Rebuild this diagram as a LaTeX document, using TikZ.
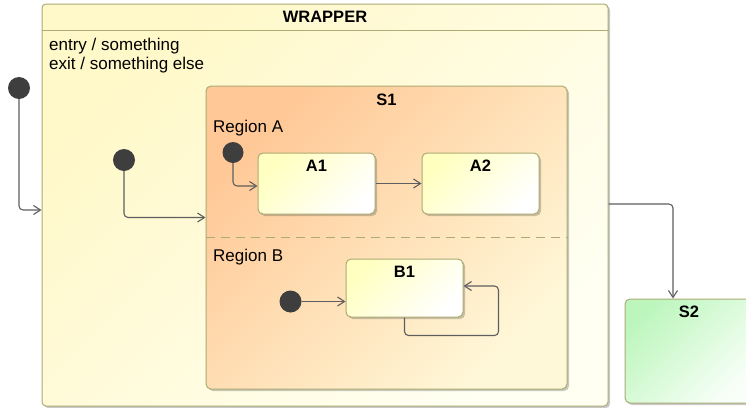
\documentclass[tikz,border=0pt]{standalone}
\usepackage{fontspec}
\setmainfont{Liberation Sans}
\usetikzlibrary{arrows.meta,shadows}

\definecolor{wrapTL}{HTML}{FFF8C8}
\definecolor{wrapBR}{HTML}{FFFFF2}
\definecolor{compTL}{HTML}{FFC896}
\definecolor{compBR}{HTML}{FFF8D8}
\definecolor{leafTL}{HTML}{FFFFC0}
\definecolor{leafBR}{HTML}{FFFFFF}
\definecolor{greenTL}{HTML}{BDF6BD}
\definecolor{greenBR}{HTML}{F8FFF8}
\definecolor{edge}{HTML}{ABAB74}
\definecolor{pseudo}{HTML}{3E3E3E}
\definecolor{wire}{HTML}{5E5E5E}

\tikzset{
  box/.style={draw=edge, line width=1pt, inner sep=0pt,
    drop shadow={shadow xshift=2pt, shadow yshift=-2pt, opacity=0.3, fill=black!70}},
  diag/.style={shading angle=45},
  wrapbox/.style={box, rounded corners=4pt, top color=wrapTL, bottom color=wrapBR, diag},
  compbox/.style={box, rounded corners=5pt, top color=compTL, bottom color=compBR, diag},
  leafbox/.style={box, rounded corners=5pt, top color=leafTL, bottom color=leafBR, diag},
  greenbox/.style={box, rounded corners=5pt, top color=greenTL, bottom color=greenBR, diag},
  initdot/.style={circle, fill=pseudo, draw=none, minimum size=22pt, inner sep=0pt},
  ttl/.style={anchor=base, inner sep=0pt, font=\fontsize{16.5}{19}\selectfont\bfseries},
  lbl/.style={anchor=base west, inner sep=0pt},
  trans/.style={draw=wire, line width=1.1pt, rounded corners=4pt,
    -{Straight Barb[length=7pt,width=9pt]}},
}

\begin{document}
\begin{tikzpicture}[x=1pt, y=-1pt, font=\fontsize{17}{19}\selectfont]
\useasboundingbox (0,0) rectangle (746,407);
\clip (0,0) rectangle (746,407);

% outer composite state
\node[wrapbox, minimum width=566pt, minimum height=402pt] (wrapper) at (325,205) {};
\draw[draw=edge, line width=1pt] ([yshift=-27pt]wrapper.north west) -- ([yshift=-27pt]wrapper.north east);
\node[ttl] (wrapperT) at ([yshift=-19.3pt]wrapper.north) {WRAPPER};
\node[lbl] (entryT) at (49,50) {entry / something};
\node[lbl] (exitT) at (49,69.5) {exit / something else};

% orthogonal state S1
\node[compbox, minimum width=361pt, minimum height=303pt] (S1) at (386.5,237.5) {};
\node[ttl] (S1T) at ([yshift=-19.5pt]S1.north) {S1};
\draw[draw=edge, line width=1pt, dash pattern=on 9pt off 6pt] (S1.west) -- (S1.east);
\node[lbl] (regA) at (213,132.7) {Region A};
\node[lbl] (regB) at (213,261.7) {Region B};

% substates
\node[leafbox, minimum width=117pt, minimum height=61pt] (A1) at (316.5,183.5) {};
\node[ttl] (A1T) at ([yshift=-19.3pt]A1.north) {A1};
\node[leafbox, minimum width=117pt, minimum height=61pt] (A2) at (480.5,183.5) {};
\node[ttl] (A2T) at ([yshift=-19.3pt]A2.north) {A2};
\node[leafbox, minimum width=117pt, minimum height=58pt] (B1) at (404.5,288) {};
\node[ttl] (B1T) at ([yshift=-18.7pt]B1.north) {B1};

% target state
\node[greenbox, minimum width=128pt, minimum height=104pt] (S2) at (689,351) {};
\node[ttl] (S2T) at ([yshift=-19.3pt]S2.north) {S2};

% initial pseudostates
\node[initdot] (init0) at (19,88) {};
\node[initdot] (init1) at (124,160) {};
\node[initdot, minimum size=21pt] (initA) at (233,152.5) {};
\node[initdot, minimum size=22pt] (initB) at (290.5,301.5) {};

% transitions
\draw[trans] (init0) |- ([yshift=-5pt]wrapper.west);
\draw[trans] (init1) |- ([yshift=20pt]S1.west);
\draw[trans] (initA) |- ([yshift=-2.5pt]A1.west);
\draw[trans] (A1.east) -- (A1.east -| A2.west);
\draw[trans] (initB) -- (initB -| B1.west);
\draw[trans] (B1.south) -- ++(0,18) -| ([xshift=35pt,yshift=2pt]B1.east) -- ([yshift=2pt]B1.east);
\draw[trans] ([yshift=1pt]wrapper.east) -| ([xshift=-16pt]S2.north);
\end{tikzpicture}
\end{document}
